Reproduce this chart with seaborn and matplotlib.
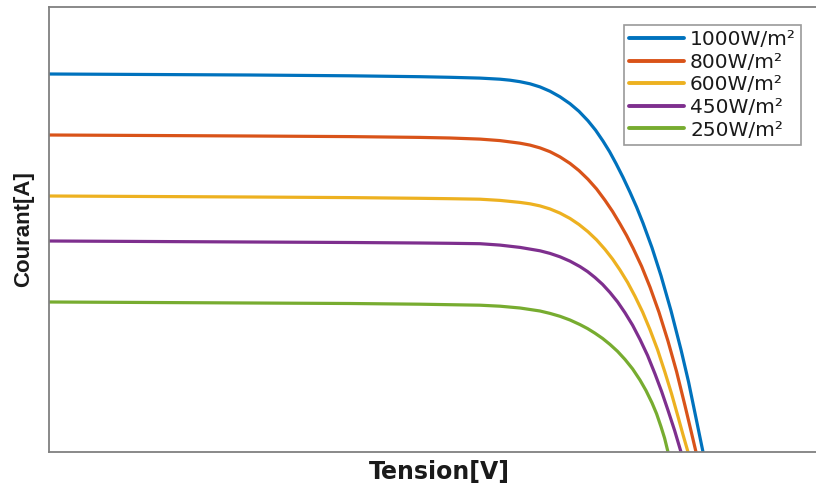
import matplotlib
matplotlib.use("Agg")
import matplotlib.pyplot as plt
import seaborn as sns
import pandas as pd

labels = ["1000W/m²", "800W/m²", "600W/m²", "450W/m²", "250W/m²"]
colors = ["#0072BD", "#D95319", "#EDB120", "#7E2F8E", "#77AC30"]

# Tension [V] and Courant [A]
v_1000 = [0, 5.05, 10.05, 15.05, 18.55, 20.05, 21.55, 22.55, 23.05, 23.55, 24.05, 24.55, 25.05,
          25.55, 26.05, 26.5, 26.95, 27.33, 27.7, 28.03, 28.35, 28.7, 29.05, 29.38, 29.7, 30.15,
          30.6, 31.1, 31.6, 31.98, 32.35, 32.7]
i_1000 = [7.56, 7.55, 7.54, 7.524, 7.506, 7.494, 7.478, 7.456, 7.436, 7.406, 7.364, 7.302, 7.216,
          7.104, 6.966, 6.813, 6.624, 6.436, 6.219, 6.006, 5.77, 5.494, 5.196, 4.898, 4.578, 4.086,
          3.526, 2.826, 2.046, 1.398, 0.68, 0.0]

v_800 = [0, 5.05, 10.05, 15.05, 18.55, 20.05, 21.55, 22.55, 23.55, 24.05, 24.55, 25.05, 25.55,
         26.05, 26.5, 26.95, 27.38, 27.8, 28.18, 28.55, 28.88, 29.2, 29.63, 30.05, 30.5, 30.95,
         31.38, 31.8, 32.08, 32.35]
i_800 = [6.34, 6.33, 6.32, 6.308, 6.292, 6.28, 6.258, 6.228, 6.176, 6.138, 6.082, 6.006, 5.902,
         5.772, 5.628, 5.454, 5.26, 5.034, 4.81, 4.563, 4.33, 4.08, 3.714, 3.298, 2.794, 2.218,
         1.606, 0.926, 0.458, 0.0]

v_600 = [0, 5.05, 10.05, 15.05, 18.55, 20.05, 21.55, 22.55, 23.55, 24.05, 24.55, 25.05, 25.55,
         26.05, 26.5, 26.95, 27.38, 27.8, 28.18, 28.55, 28.93, 29.3, 29.68, 30.05, 30.43, 30.8,
         31.13, 31.45, 31.7, 31.95]
i_600 = [5.12, 5.11, 5.10, 5.088, 5.074, 5.066, 5.056, 5.032, 4.992, 4.964, 4.922, 4.861, 4.778,
         4.671, 4.55, 4.405, 4.242, 4.052, 3.858, 3.64, 3.392, 3.114, 2.8, 2.446, 2.044, 1.592,
         1.162, 0.708, 0.346, 0.0]

v_450 = [0, 5.05, 10.05, 15.05, 18.55, 20.05, 21.55, 22.55, 23.55, 24.55, 25.05, 25.55, 26.05,
         26.55, 26.93, 27.3, 27.68, 28.05, 28.43, 28.8, 29.18, 29.55, 29.93, 30.3, 30.63, 30.95,
         31.28, 31.6]
i_450 = [4.22, 4.21, 4.20, 4.19, 4.18, 4.174, 4.166, 4.138, 4.092, 4.024, 3.972, 3.904, 3.817,
         3.708, 3.608, 3.49, 3.352, 3.19, 3.002, 2.785, 2.536, 2.252, 1.93, 1.562, 1.211, 0.834,
         0.431, 0.0]

v_250 = [0, 5.05, 10.05, 15.05, 18.55, 20.05, 21.55, 22.55, 23.55, 24.55, 25.05, 25.55, 26.05,
         26.55, 26.93, 27.3, 27.68, 28.05, 28.43, 28.8, 29.18, 29.55, 29.85, 30.15, 30.38, 30.6,
         30.78, 30.95]
i_250 = [3.00, 2.99, 2.98, 2.97, 2.956, 2.946, 2.936, 2.916, 2.880, 2.82, 2.772, 2.714, 2.64,
         2.548, 2.468, 2.376, 2.271, 2.151, 2.012, 1.851, 1.662, 1.439, 1.229, 0.983, 0.764, 0.506,
         0.276, 0.0]

series_v = [v_1000, v_800, v_600, v_450, v_250]
series_i = [i_1000, i_800, i_600, i_450, i_250]

rows = []
for lab, vs, cs in zip(labels, series_v, series_i):
    for v, c in zip(vs, cs):
        rows.append({"V": v, "I": c, "G": lab})
df = pd.DataFrame(rows)

sns.set_theme(style="white")
plt.rcParams["font.family"] = ["DejaVu Sans"]

fig = plt.figure(figsize=(8.16, 4.84), dpi=100)
ax = fig.add_axes([49 / 816, 32 / 484, 780 / 816, 445 / 484])

sns.lineplot(data=df, x="V", y="I", hue="G", hue_order=labels, palette=colors,
             sort=False, estimator=None, linewidth=2.3, ax=ax, legend=False)

ax.set_xlim(0, 39)
ax.set_ylim(0, 8.9)
ax.set_xticks([])
ax.set_yticks([])
for side in ["left", "bottom", "top"]:
    ax.spines[side].set_color("#808080")
    ax.spines[side].set_linewidth(1.3)
ax.spines["right"].set_visible(False)

ax.set_xlabel("Tension[V]", fontsize=17, fontweight="bold", color="#1a1a1a",
              labelpad=6, family=["DejaVu Sans"])
ax.set_ylabel("Courant[A]", fontsize=16, fontweight="bold", color="#1a1a1a",
              labelpad=11, family=["Liberation Sans", "DejaVu Sans"])

handles = [plt.Line2D([], [], color=c, lw=2.8) for c in colors]
leg = ax.legend(handles, labels, loc="upper right", bbox_to_anchor=(801 / 816, 1 - 25 / 484),
                bbox_transform=fig.transFigure, borderaxespad=0, fontsize=14.5,
                handlelength=2.75, handletextpad=0.3, labelspacing=0.18,
                fancybox=False, frameon=True, borderpad=0.25)
leg.get_frame().set_edgecolor("#808080")
leg.get_frame().set_linewidth(1.2)
for t in leg.get_texts():
    t.set_color("#1a1a1a")

fig.savefig("out.png", dpi=100)
